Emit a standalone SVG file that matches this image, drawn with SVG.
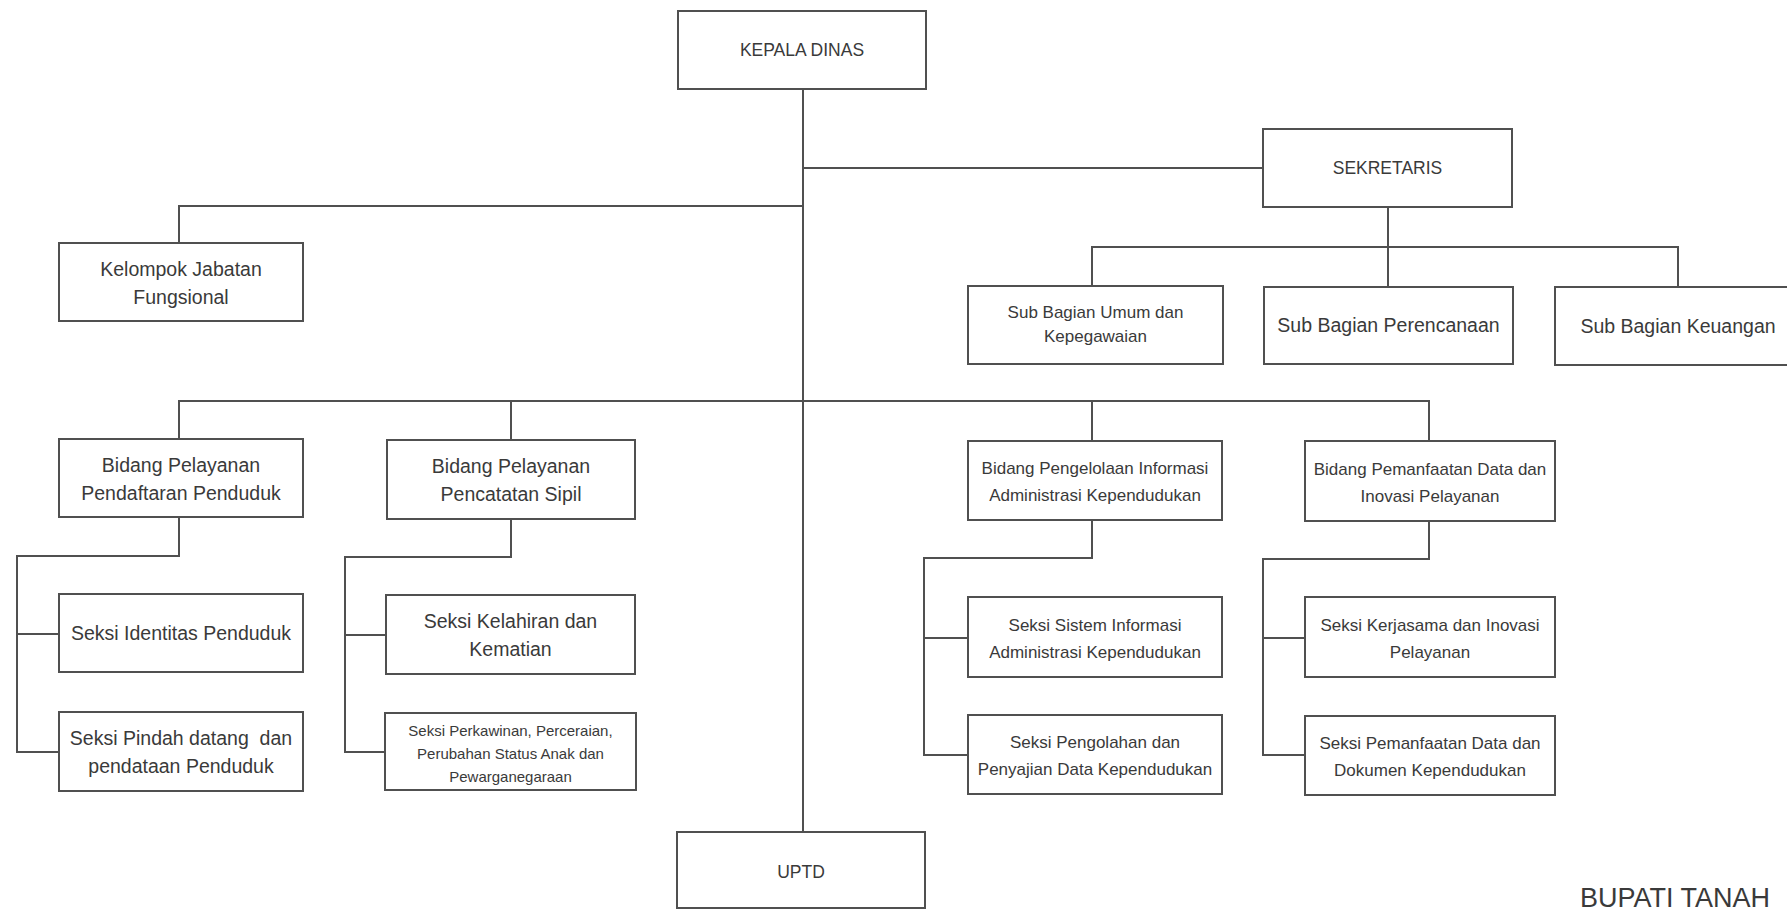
<svg xmlns="http://www.w3.org/2000/svg" width="1787" height="910" viewBox="0 0 1787 910">
<style>
.box{fill:#fff;stroke:#505050;stroke-width:2}
.con{fill:none;stroke:#505050;stroke-width:2}
.t{font-family:"Liberation Sans",Arial,sans-serif;fill:#3a3a3a;text-anchor:middle}
.c{font-size:17.5px}
.l{font-size:19.5px}
.m{font-size:17px}
.s{font-size:15px}
</style>
<rect width="1787" height="910" fill="#fff"/>
<g id="connectors" class="con">
<path d="M803 89V832"/>
<path d="M803 168H1263"/>
<path d="M803 206H179V243"/>
<path d="M1388 207V287"/>
<path d="M1092 286V247H1678V287"/>
<path d="M179 439V401H1429V441"/>
<path d="M511 401V440"/>
<path d="M1092 401V441"/>
<path d="M179 517V556H17V752H59"/>
<path d="M17 634H59"/>
<path d="M511 519V557H345V752H385"/>
<path d="M345 635H386"/>
<path d="M1092 520V558H924V755H968"/>
<path d="M924 638H968"/>
<path d="M1429 521V559H1263V755H1305"/>
<path d="M1263 638H1305"/>
</g>
<g id="kepala-dinas"><rect class="box" x="678" y="11" width="248" height="78"/><text class="t c" x="802" y="56">KEPALA DINAS</text></g>
<g id="sekretaris"><rect class="box" x="1263" y="129" width="249" height="78"/><text class="t c" x="1387.5" y="174">SEKRETARIS</text></g>
<g id="kelompok-jabatan"><rect class="box" x="59" y="243" width="244" height="78"/><text class="t l" x="181" y="276">Kelompok Jabatan</text><text class="t l" x="181" y="304">Fungsional</text></g>
<g id="sub-umum"><rect class="box" x="968" y="286" width="255" height="78"/><text class="t m" x="1095.5" y="318">Sub Bagian Umum dan</text><text class="t m" x="1095.5" y="342">Kepegawaian</text></g>
<g id="sub-perencanaan"><rect class="box" x="1264" y="287" width="249" height="77"/><text class="t l" x="1388.5" y="332">Sub Bagian Perencanaan</text></g>
<g id="sub-keuangan"><rect class="box" x="1555" y="287" width="250" height="78"/><text class="t l" x="1678" y="333">Sub Bagian Keuangan</text></g>
<g id="bidang-pendaftaran"><rect class="box" x="59" y="439" width="244" height="78"/><text class="t l" x="181" y="472">Bidang Pelayanan</text><text class="t l" x="181" y="500">Pendaftaran Penduduk</text></g>
<g id="bidang-pencatatan"><rect class="box" x="387" y="440" width="248" height="79"/><text class="t l" x="511" y="473">Bidang Pelayanan</text><text class="t l" x="511" y="501">Pencatatan Sipil</text></g>
<g id="bidang-pengelolaan"><rect class="box" x="968" y="441" width="254" height="79"/><text class="t m" x="1095" y="474">Bidang Pengelolaan Informasi</text><text class="t m" x="1095" y="501">Administrasi Kependudukan</text></g>
<g id="bidang-pemanfaatan"><rect class="box" x="1305" y="441" width="250" height="80"/><text class="t m" x="1430" y="475">Bidang Pemanfaatan Data dan</text><text class="t m" x="1430" y="502">Inovasi Pelayanan</text></g>
<g id="seksi-identitas"><rect class="box" x="59" y="594" width="244" height="78"/><text class="t l" x="181" y="640">Seksi Identitas Penduduk</text></g>
<g id="seksi-pindah"><rect class="box" x="59" y="712" width="244" height="79"/><text class="t l" x="181" y="745" style="white-space:pre">Seksi Pindah datang  dan</text><text class="t l" x="181" y="773">pendataan Penduduk</text></g>
<g id="seksi-kelahiran"><rect class="box" x="386" y="595" width="249" height="79"/><text class="t l" x="510.5" y="628">Seksi Kelahiran dan</text><text class="t l" x="510.5" y="656">Kematian</text></g>
<g id="seksi-perkawinan"><rect class="box" x="385" y="713" width="251" height="77"/><text class="t s" x="510.5" y="736">Seksi Perkawinan, Perceraian,</text><text class="t s" x="510.5" y="759">Perubahan Status Anak dan</text><text class="t s" x="510.5" y="782">Pewarganegaraan</text></g>
<g id="seksi-sistem"><rect class="box" x="968" y="597" width="254" height="80"/><text class="t m" x="1095" y="631">Seksi Sistem Informasi</text><text class="t m" x="1095" y="658">Administrasi Kependudukan</text></g>
<g id="seksi-pengolahan"><rect class="box" x="968" y="715" width="254" height="79"/><text class="t m" x="1095" y="748">Seksi Pengolahan dan</text><text class="t m" x="1095" y="775">Penyajian Data Kependudukan</text></g>
<g id="seksi-kerjasama"><rect class="box" x="1305" y="597" width="250" height="80"/><text class="t m" x="1430" y="631">Seksi Kerjasama dan Inovasi</text><text class="t m" x="1430" y="658">Pelayanan</text></g>
<g id="seksi-pemanfaatan"><rect class="box" x="1305" y="716" width="250" height="79"/><text class="t m" x="1430" y="749">Seksi Pemanfaatan Data dan</text><text class="t m" x="1430" y="776">Dokumen Kependudukan</text></g>
<g id="uptd"><rect class="box" x="677" y="832" width="248" height="76"/><text class="t c" x="801" y="878">UPTD</text></g>
<text id="bupati" x="1580" y="907" style="font-family:'Liberation Sans',Arial,sans-serif;font-size:27px;fill:#3a3a3a">BUPATI TANAH</text>
</svg>
